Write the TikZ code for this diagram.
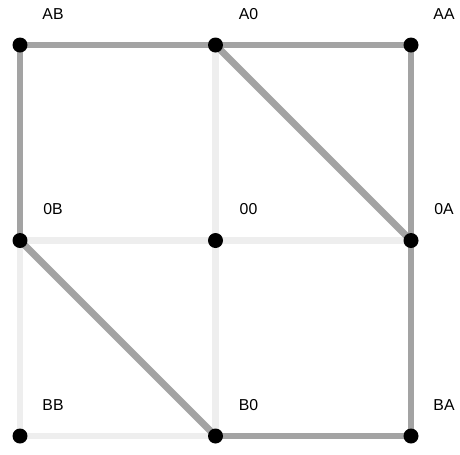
\documentclass[tikz,border=0pt]{standalone}
\usepackage{fontspec}
\setmainfont{Liberation Sans}
\usepackage{tikz}
\usetikzlibrary{backgrounds}

\definecolor{muchie}{HTML}{A3A3A3}
\definecolor{muchiedeschis}{HTML}{EEEEEE}

\begin{document}
\begin{tikzpicture}[x=0.02cm, y=-0.02cm,
    punct/.style={circle, fill=black, inner sep=0pt, minimum size=0.3cm},
    eticheta/.style={font=\fontsize{9}{10.8}\selectfont, inner sep=0pt},
    tare/.style={draw=muchie, line width=3.9pt},
    slab/.style={draw=muchiedeschis, line width=3.9pt}]
    \useasboundingbox (0,0) rectangle (460,454);
    \def\d{195.5} % pas intre puncte (px)
    % Punctele grilei
    \node[punct] (nAB) at (20,     45) {};
    \node[punct] (nA0) at (20+\d,  45) {};
    \node[punct] (nAA) at (20+2*\d, 45) {};
    \node[punct] (n0B) at (20,     45+\d) {};
    \node[punct] (n00) at (20+\d,  45+\d) {};
    \node[punct] (n0A) at (20+2*\d, 45+\d) {};
    \node[punct] (nBB) at (20,     45+2*\d) {};
    \node[punct] (nB0) at (20+\d,  45+2*\d) {};
    \node[punct] (nBA) at (20+2*\d, 45+2*\d) {};
    % Etichete (sus-dreapta fata de punct)
    \foreach \n in {AB, A0, AA, 0B, 00, 0A, BB, B0, BA} {
      \node[eticheta] (e\n) at ([shift={(33,-31)}]n\n.center) {\n};
    }
    \begin{scope}[on background layer]
      % Muchii deschise
      \foreach \a/\b in {A0/00, 0B/00, 00/0A, 00/B0, 0B/BB, BB/B0} {
        \draw[slab] (n\a.center) -- (n\b.center);
      }
      % Muchii inchise
      \foreach \a/\b in {AB/A0, A0/AA, AB/0B, AA/0A, A0/0A, 0B/B0, B0/BA, BA/0A} {
        \draw[tare] (n\a.center) -- (n\b.center);
      }
    \end{scope}
  \end{tikzpicture}
\end{document}
